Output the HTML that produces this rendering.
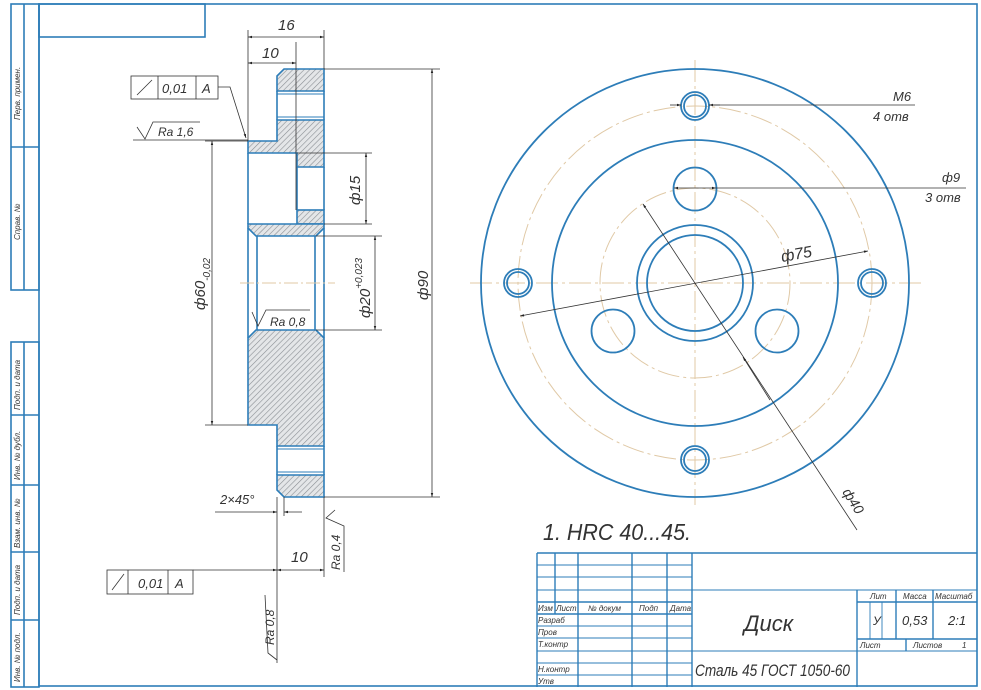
<!DOCTYPE html>
<html><head><meta charset="utf-8">
<style>
html,body{margin:0;padding:0;background:#fff;}
svg{display:block;}
text{font-family:"Liberation Sans","DejaVu Sans",sans-serif;font-style:italic;fill:#333;}
</style></head><body>
<svg width="981" height="690" viewBox="0 0 981 690" xmlns="http://www.w3.org/2000/svg">
<defs>
<pattern id="h" width="4" height="4" patternUnits="userSpaceOnUse" patternTransform="rotate(45)">
<rect width="4" height="4" fill="#e4e6e8"/>
<line x1="0" y1="0" x2="0" y2="4" stroke="#8a8f94" stroke-width="1.2"/>
</pattern>
<marker id="a" viewBox="0 0 10 10" refX="10" refY="5" markerWidth="9" markerHeight="5" orient="auto-start-reverse"><path d="M0,2 L10,5 L0,8z" fill="#222"/></marker>
</defs>
<g fill="none" stroke="#2d7db8" stroke-width="1.6">
<rect x="39" y="4" width="938" height="682"/>
<rect x="39" y="4" width="166" height="33"/>
<rect x="11" y="4" width="28" height="286"/>
<line x1="24" y1="4" x2="24" y2="290"/>
<line x1="11" y1="147" x2="39" y2="147"/>
<rect x="11" y="342" width="28" height="345"/>
<line x1="24" y1="342" x2="24" y2="687"/>
<line x1="11" y1="415" x2="39" y2="415"/>
<line x1="11" y1="485" x2="39" y2="485"/>
<line x1="11" y1="552" x2="39" y2="552"/>
<line x1="11" y1="620" x2="39" y2="620"/>
</g>
<g font-size="8">
<text transform="translate(20,120) rotate(-90)">Перв. примен.</text>
<text transform="translate(20,240) rotate(-90)">Справ. №</text>
<text transform="translate(20,410) rotate(-90)">Подп. и дата</text>
<text transform="translate(20,480) rotate(-90)">Инв. № дубл.</text>
<text transform="translate(20,548) rotate(-90)">Взам. инв. №</text>
<text transform="translate(20,615) rotate(-90)">Подп. и дата</text>
<text transform="translate(20,682) rotate(-90)">Инв. № подл.</text>
</g>

<g fill="url(#h)" stroke="#2d7db8" stroke-width="1.6">
<path d="M284,69 L324,69 L324,91 L277,91 L277,76z"/>
<path d="M277,120 L324,120 L324,167 L297,167 L297,153 L248,153 L248,141 L277,141z"/>
<rect x="297" y="210" width="27" height="14"/>
<path d="M248,224 L324,224 L324,228 L316,236 L256,236 L248,228z"/>
<path d="M256,330 L316,330 L324,338 L324,446 L277,446 L277,425 L248,425 L248,338z"/>
<path d="M277,475 L324,475 L324,497 L284,497 L277,490z"/>
</g>
<g fill="none" stroke="#2d7db8" stroke-width="1.6">
<line x1="277" y1="91" x2="277" y2="120"/>
<line x1="324" y1="91" x2="324" y2="120"/>
<line x1="277" y1="446" x2="277" y2="475"/>
<line x1="324" y1="446" x2="324" y2="475"/>
<line x1="248" y1="153" x2="248" y2="224"/>
<line x1="297" y1="167" x2="297" y2="210"/>
<line x1="324" y1="167" x2="324" y2="210"/>
<line x1="248" y1="228" x2="248" y2="338"/>
<line x1="324" y1="228" x2="324" y2="338"/>
<line x1="257" y1="236" x2="257" y2="330"/>
<line x1="315" y1="236" x2="315" y2="330"/>
<line x1="277" y1="94" x2="324" y2="94" stroke-width="1"/>
<line x1="277" y1="117" x2="324" y2="117" stroke-width="1"/>
<line x1="277" y1="449" x2="324" y2="449" stroke-width="1"/>
<line x1="277" y1="472" x2="324" y2="472" stroke-width="1"/>
</g>
<line x1="240" y1="283" x2="335" y2="283" stroke="#e0c9a6" stroke-width="1" stroke-dasharray="14,3,2,3"/>

<g stroke="#333" stroke-width="0.8" fill="none">
<line x1="248" y1="30" x2="248" y2="141"/>
<line x1="324" y1="30" x2="324" y2="69"/>
<line x1="296" y1="42" x2="296" y2="210"/>
<line x1="248" y1="37" x2="324" y2="37" marker-start="url(#a)" marker-end="url(#a)"/>
<line x1="248" y1="63" x2="296" y2="63" marker-start="url(#a)" marker-end="url(#a)"/>
<line x1="324" y1="69" x2="440" y2="69"/>
<line x1="324" y1="497" x2="440" y2="497"/>
<line x1="432" y1="69" x2="432" y2="497" marker-start="url(#a)" marker-end="url(#a)"/>
<line x1="297" y1="153" x2="372" y2="153"/>
<line x1="324" y1="224" x2="372" y2="224"/>
<line x1="366" y1="153" x2="366" y2="224" marker-start="url(#a)" marker-end="url(#a)"/>
<line x1="316" y1="236" x2="382" y2="236"/>
<line x1="316" y1="330" x2="382" y2="330"/>
<line x1="375" y1="236" x2="375" y2="330" marker-start="url(#a)" marker-end="url(#a)"/>
<line x1="205" y1="141" x2="248" y2="141"/>
<line x1="205" y1="425" x2="248" y2="425"/>
<line x1="212" y1="141" x2="212" y2="425" marker-start="url(#a)" marker-end="url(#a)"/>
<polyline points="133,140 248,140"/>
<polyline points="137,127 145,139 153,122 200,122"/>
<rect x="131" y="76" width="87" height="23"/>
<line x1="158" y1="76" x2="158" y2="99"/>
<line x1="196" y1="76" x2="196" y2="99"/>
<line x1="137" y1="95" x2="152" y2="80"/>
<polyline points="218,87 230,87 246,138" marker-end="url(#a)"/>
<polyline points="252,312 258,326 266,310 310,310"/>
<line x1="277" y1="497" x2="277" y2="663"/>
<line x1="324" y1="497" x2="324" y2="577"/>
<line x1="284" y1="497" x2="284" y2="516"/>
<line x1="215" y1="512" x2="277" y2="512" marker-end="url(#a)"/>
<line x1="302" y1="512" x2="284" y2="512" marker-end="url(#a)"/>
<line x1="193" y1="570" x2="277" y2="570" marker-end="url(#a)"/>
<line x1="277" y1="570" x2="324" y2="570" marker-start="url(#a)" marker-end="url(#a)"/>
<rect x="107" y="570" width="86" height="24"/>
<line x1="128" y1="570" x2="128" y2="594"/>
<line x1="168" y1="570" x2="168" y2="594"/>
<line x1="112" y1="590" x2="124" y2="574"/>
<polyline points="335,510 326,518 344,526 344,572"/>
<polyline points="277,660 268,653 265,595"/>
</g>
<g font-size="15">
<text x="278" y="30">16</text>
<text x="262" y="58">10</text>
<text x="162" y="93" font-size="13">0,01</text>
<text x="202" y="93" font-size="13">A</text>
<text x="158" y="136" font-size="12">Ra 1,6</text>
<text transform="translate(428,300) rotate(-90)">ф90</text>
<text transform="translate(360,205) rotate(-90)">ф15</text>
<text transform="translate(370,318) rotate(-90)">ф20<tspan font-size="10" dy="-8">+0,023</tspan></text>
<text transform="translate(205,310) rotate(-90)">ф60<tspan font-size="10" dy="5">-0,02</tspan></text>
<text x="270" y="326" font-size="12">Ra 0,8</text>
<text x="220" y="504" font-size="13">2×45°</text>
<text x="291" y="562">10</text>
<text x="138" y="588" font-size="13">0,01</text>
<text x="175" y="588" font-size="13">A</text>
<text transform="translate(340,570) rotate(-90)" font-size="12">Ra 0,4</text>
<text transform="translate(274,645) rotate(-90)" font-size="12">Ra 0,8</text>
</g>

<g fill="none" stroke="#e0c9a6" stroke-width="1" stroke-dasharray="22,4,3,4">
<circle cx="695" cy="283" r="177"/>
<circle cx="695" cy="283" r="95"/>
<line x1="470" y1="283" x2="925" y2="283"/>
<line x1="695" y1="60" x2="695" y2="505"/>
</g>
<g fill="none" stroke="#2d7db8" stroke-width="1.8">
<circle cx="695" cy="283" r="214"/>
<circle cx="695" cy="283" r="143"/>
<circle cx="695" cy="283" r="58"/>
<circle cx="695" cy="283" r="48"/>
<circle cx="695" cy="189" r="21.5"/>
<circle cx="613" cy="331" r="21.5"/>
<circle cx="777" cy="331" r="21.5"/>
<circle cx="695" cy="106" r="14"/><circle cx="695" cy="106" r="11"/>
<circle cx="695" cy="460" r="14"/><circle cx="695" cy="460" r="11"/>
<circle cx="518" cy="283" r="14"/><circle cx="518" cy="283" r="11"/>
<circle cx="872" cy="283" r="14"/><circle cx="872" cy="283" r="11"/>
</g>
<g stroke="#333" stroke-width="0.8" fill="none">
<line x1="520" y1="316" x2="868" y2="251" marker-start="url(#a)" marker-end="url(#a)"/>
<line x1="857" y1="530" x2="643" y2="204" marker-end="url(#a)"/>
<line x1="770" y1="400" x2="743" y2="357" marker-end="url(#a)"/>
<line x1="670" y1="105" x2="681" y2="105" marker-end="url(#a)"/>
<line x1="720" y1="105" x2="709" y2="105" marker-end="url(#a)"/>
<line x1="709" y1="105" x2="915" y2="105"/>
<line x1="695" y1="188" x2="674" y2="188" marker-end="url(#a)"/>
<line x1="695" y1="188" x2="716" y2="188" marker-end="url(#a)"/>
<line x1="716" y1="188" x2="966" y2="188"/>
</g>
<g font-size="13">
<text x="893" y="101">M6</text>
<text x="873" y="121">4 отв</text>
<text x="942" y="182">ф9</text>
<text x="925" y="202">3 отв</text>
<text transform="translate(782,262) rotate(-10)" font-size="16">ф75</text>
<text transform="translate(842,492) rotate(58)" font-size="14">ф40</text>
<text x="543" y="540" font-size="23" textLength="148" lengthAdjust="spacingAndGlyphs">1. HRC 40...45.</text>
</g>

<g fill="none" stroke="#2d7db8" stroke-width="1.4">
<line x1="537" y1="553" x2="977" y2="553"/>
<line x1="537" y1="553" x2="537" y2="687"/>
<line x1="555" y1="553" x2="555" y2="614"/>
<line x1="578" y1="553" x2="578" y2="687"/>
<line x1="632" y1="553" x2="632" y2="687"/>
<line x1="667" y1="553" x2="667" y2="687"/>
<line x1="692" y1="553" x2="692" y2="687"/>
<line x1="537" y1="565" x2="692" y2="565" stroke-width="0.9"/>
<line x1="537" y1="577" x2="692" y2="577" stroke-width="0.9"/>
<line x1="537" y1="590" x2="977" y2="590" stroke-width="0.9"/>
<line x1="537" y1="602" x2="692" y2="602"/>
<line x1="537" y1="614" x2="692" y2="614"/>
<line x1="537" y1="626" x2="692" y2="626" stroke-width="0.9"/>
<line x1="537" y1="638" x2="692" y2="638" stroke-width="0.9"/>
<line x1="537" y1="651" x2="977" y2="651" stroke-width="0.9"/>
<line x1="537" y1="663" x2="692" y2="663" stroke-width="0.9"/>
<line x1="537" y1="675" x2="692" y2="675" stroke-width="0.9"/>
<line x1="857" y1="590" x2="857" y2="687"/>
<line x1="857" y1="602" x2="977" y2="602"/>
<line x1="857" y1="639" x2="977" y2="639"/>
<line x1="896" y1="590" x2="896" y2="639"/>
<line x1="933" y1="590" x2="933" y2="639"/>
<line x1="870" y1="602" x2="870" y2="639" stroke-width="0.9"/>
<line x1="882" y1="602" x2="882" y2="639" stroke-width="0.9"/>
<line x1="906" y1="639" x2="906" y2="651"/>
</g>
<g font-size="8">
<text x="538" y="611">Изм</text><text x="556" y="611">Лист</text>
<text x="588" y="611">№ докум</text><text x="639" y="611">Подп</text><text x="670" y="611">Дата</text>
<text x="538" y="623">Разраб</text><text x="538" y="635">Пров</text><text x="538" y="647">Т.контр</text>
<text x="538" y="672">Н.контр</text><text x="538" y="684">Утв</text>
<text x="870" y="599">Лит</text><text x="903" y="599">Масса</text><text x="935" y="599">Масштаб</text>
<text x="860" y="648">Лист</text><text x="913" y="648">Листов</text><text x="962" y="648">1</text>
</g>
<text x="744" y="631" font-size="22">Диск</text>
<text x="873" y="625" font-size="12">У</text>
<text x="902" y="625" font-size="13">0,53</text>
<text x="948" y="625" font-size="13">2:1</text>
<text x="695" y="676" font-size="17" textLength="155" lengthAdjust="spacingAndGlyphs">Сталь 45  ГОСТ 1050-60</text>
</svg>
</body></html>
